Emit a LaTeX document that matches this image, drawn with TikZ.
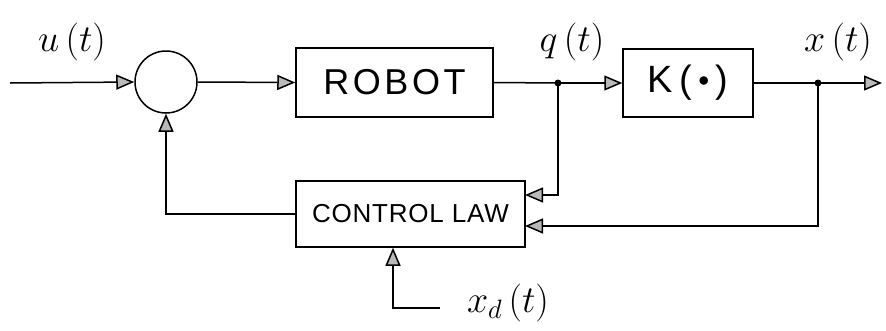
\RequirePackage{fix-cm}
\documentclass[tikz,border=0pt]{standalone}
\usepackage{fontspec}
\setsansfont{Liberation Sans}
\usetikzlibrary{arrows.meta}
\begin{document}
\begin{tikzpicture}[x=1pt,y=-1pt, line width=1.5pt,
  arr/.style={-{Triangle[length=18pt,width=15pt,fill=gray!55]}},
  blk/.style={draw, rectangle, inner sep=0pt, font=\sffamily},
  lbl/.style={font=\fontsize{38}{38}\selectfont}]
\useasboundingbox (0,0) rectangle (886,330);
\node[draw,circle,minimum size=62pt,inner sep=0pt] (sum) at (166,82) {};
\node[blk, minimum width=197pt, minimum height=69pt, font=\sffamily\fontsize{36}{36}\selectfont\addfontfeature{LetterSpace=10}] (robot) at (394.5,82.5) {ROBOT};
\node[blk, minimum width=130pt, minimum height=68pt, font=\sffamily\fontsize{38}{38}\selectfont] (k) at (688,83) {K\,(\,\raisebox{6pt}{\fontsize{22}{22}\selectfont$\bullet$}\,)};
\node[blk, minimum width=229pt, minimum height=66pt, font=\sffamily\fontsize{26}{26}\selectfont\addfontfeature{LetterSpace=3}] (cl) at (410.5,214) {CONTROL LAW};
\coordinate (in) at (10,83);
\coordinate (jq) at (558,83);
\coordinate (jx) at (818,83);
\coordinate (out) at (882,83);
\coordinate (clq) at (525,195);
\coordinate (clx) at (525,226);
\coordinate (xd) at (393,308);
\coordinate (xdend) at (440,308);
\draw[arr] (in) -- (sum.west);
\draw[arr] (sum.east) -- (robot.west);
\draw (robot.east) -- (jq);
\draw[arr] (jq) -- (k.west);
\draw (k.east) -- (jx);
\draw[arr] (jx) -- (out);
\draw[arr] (jq) |- (clq);
\draw[arr] (jx) |- (clx);
\draw[arr] (cl.west) -| (sum.south);
\draw[arr] (xdend) -- (xd) -- (xd |- cl.south);
\fill (jq) circle (3.5pt);
\fill (jx) circle (3.5pt);
\node[lbl] (lu) at (72,42) {$u\,(t)$};
\node[lbl] (lq) at (572,42) {$q\,(t)$};
\node[lbl] (lx) at (838,42) {$x\,(t)$};
\node[lbl] (lxd) at (508,303) {$x_d\,(t)$};
\end{tikzpicture}
\end{document}
